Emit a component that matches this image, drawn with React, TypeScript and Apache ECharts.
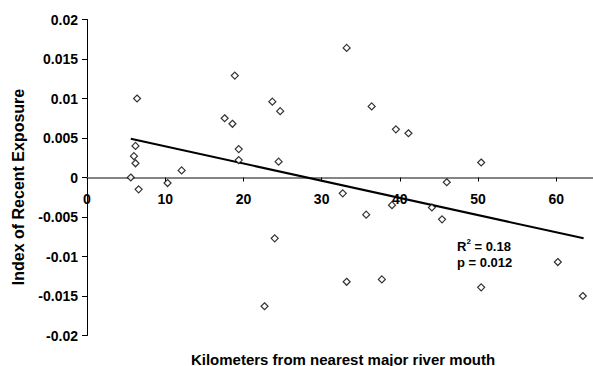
import React, { useEffect, useRef } from "react";
import * as echarts from "echarts";

const distanceKm = [
  5.6, 6.4, 6.2, 6.0, 6.2, 6.6, 10.3, 12.1, 17.6, 18.6, 18.9, 19.4, 19.4, 22.7, 23.7, 24.0, 24.5,
  24.7, 32.7, 33.2, 33.2, 35.7, 36.4, 37.7, 39.0, 39.5, 41.1, 44.1, 45.4, 46.0, 50.4, 50.4, 60.2, 63.4,
];
const exposureIndex = [
  0.0, 0.01, 0.004, 0.0027, 0.0018, -0.0015, -0.0007, 0.0009, 0.0075, 0.0068, 0.0129, 0.0036, 0.0022,
  -0.0163, 0.0096, -0.0077, 0.002, 0.0084, -0.002, 0.0164, -0.0132, -0.0047, 0.009, -0.0129, -0.0035,
  0.0061, 0.0056, -0.0038, -0.0053, -0.0006, 0.0019, -0.0139, -0.0107, -0.015,
];
const trendX = [5.6, 63.5];
const trendY = [0.0049, -0.0077];
const statsLines = ["R2 = 0.18", "p = 0.012"];
const xTitle = "Kilometers from nearest major river mouth";
const yTitle = "Index of Recent Exposure";

const FONT = "'Liberation Sans', Arial, sans-serif";

export default function App() {
  const ref = useRef<HTMLDivElement>(null);
  useEffect(() => {
    if (!ref.current) return;
    const chart = echarts.init(ref.current, undefined, { renderer: "svg" });
    const points = distanceKm.map((x, i) => [x, exposureIndex[i]]);
    const trend = trendX.map((x, i) => [x, trendY[i]]);
    chart.setOption({
      animation: false,
      backgroundColor: "#ffffff",
      grid: { left: 87, top: 19.5, bottom: 30.5, right: 0, containLabel: false },
      xAxis: {
        type: "value",
        min: 0,
        max: 64.7,
        interval: 10,
        offset: -158,
        splitLine: { show: false },
        axisLine: { onZero: false, lineStyle: { color: "#858585", width: 2 } },
        axisTick: { show: true, length: 4, lineStyle: { color: "#000", width: 1 } },
        axisLabel: {
          margin: 14,
          fontSize: 14,
          fontWeight: "bold",
          color: "#000",
          fontFamily: FONT,
          showMaxLabel: false,
        },
      },
      yAxis: {
        type: "value",
        min: -0.02,
        max: 0.02,
        interval: 0.005,
        splitLine: { show: false },
        axisLine: { show: true, onZero: false, lineStyle: { color: "#000", width: 1 } },
        axisTick: { show: true, length: 5, lineStyle: { color: "#000", width: 1 } },
        axisLabel: { margin: 9, fontSize: 14, fontWeight: "bold", color: "#000", fontFamily: FONT },
      },
      series: [
        {
          type: "line",
          data: trend,
          showSymbol: false,
          symbol: "none",
          lineStyle: { color: "#000", width: 2 },
          z: 2,
        },
        {
          type: "scatter",
          data: points,
          symbol: "diamond",
          symbolSize: 7,
          itemStyle: { color: "#fff", borderColor: "#000", borderWidth: 1.2 },
          z: 3,
        },
      ],
      graphic: [
        {
          type: "text",
          x: 18.5,
          y: 187,
          rotation: Math.PI / 2,
          style: {
            text: yTitle,
            fontSize: 16,
            fontWeight: "bold",
            fontFamily: FONT,
            fill: "#000",
            align: "center",
            verticalAlign: "middle",
          },
        },
        {
          type: "text",
          x: 343,
          y: 359,
          style: {
            text: xTitle,
            fontSize: 15,
            fontWeight: "bold",
            fontFamily: FONT,
            fill: "#000",
            align: "center",
            verticalAlign: "middle",
          },
        },
        {
          type: "text",
          x: 457,
          y: 245,
          style: {
            text: "{b|R}{s|" + statsLines[0].slice(1, 2) + "}{b|" + statsLines[0].slice(2) + "}",
            fontFamily: FONT,
            fill: "#000",
            align: "left",
            verticalAlign: "middle",
            rich: {
              b: { fontSize: 13, fontWeight: "bold", fontFamily: FONT, lineHeight: 16, verticalAlign: "bottom" },
              s: { fontSize: 8, fontWeight: "bold", fontFamily: FONT, lineHeight: 16, verticalAlign: "top", padding: [0, 0, 6, 0] },
            },
          },
        },
        {
          type: "text",
          x: 457,
          y: 262,
          style: {
            text: statsLines[1],
            fontSize: 13,
            fontWeight: "bold",
            fontFamily: FONT,
            fill: "#000",
            align: "left",
            verticalAlign: "middle",
          },
        },
      ],
    });
    return () => chart.dispose();
  }, []);
  return <div ref={ref} style={{ position: "fixed", left: 0, top: 0, width: 593, height: 366 }} />;
}
